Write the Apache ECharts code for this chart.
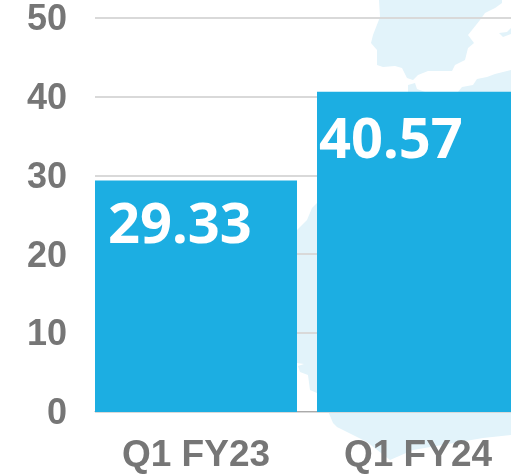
<!DOCTYPE html>
<html><head><meta charset="utf-8">
<style>html,body{margin:0;padding:0;background:#fff}#c{width:511px;height:474px}</style>
<script src="https://cdn.jsdelivr.net/npm/echarts@6/dist/echarts.min.js"></script></head>
<body><div id="c"></div>
<script>
const categories = ['Q1 FY23', 'Q1 FY24'];
const values = [29.33, 40.57];
const yMin = 0, yMax = 50, yStep = 10;
const mapFill = '#e2f3fa';
const poly = (pts) => ({type:'polygon', silent:true, z:-10, shape:{points:pts}, style:{fill:mapFill}});
const chart = echarts.init(document.getElementById('c'), null, {renderer:'canvas'});
chart.setOption({
  animation:false,
  backgroundColor:'#fff',
  graphic:[
    poly([[379,0],[380,17],[373,35],[371,43],[377,50],[377,65],[383,67],[395,66],[402,68],[407,78],[413,80],[418,75],[428,71],[445,71],[452,71],[455,65],[465,60],[468,48],[474,43],[468,35],[480,20],[485,13],[495,8],[502,3],[502,0]]),
    poly([[499,33],[507,32],[511,28],[511,34],[503,37]]),
    poly([[408,85],[415,83],[417,89],[425,92],[458,92],[462,87],[473,85],[477,79],[487,77],[495,74],[511,70],[511,95],[408,95]]),
    poly([[297,230],[307,220],[312,208],[320,200],[320,395],[317,393],[310,390],[308,375],[300,372],[298,366],[304,364],[297,363]]),
    poly([[328,411],[333,423],[337,427],[367,442],[390,460],[413,450],[483,438],[511,435],[511,411]])
  ],
  grid:[
    {left:95, width:416, top:18, height:393.5, outerBoundsMode:'none'},
    {left:85, width:444, top:17.2, height:394.8, outerBoundsMode:'none'}
  ],
  xAxis:[
    {type:'category', gridIndex:0, data:categories, axisTick:{show:false}, axisLabel:{show:false},
     axisLine:{lineStyle:{color:'#aaaaaa', width:1}}},
    {type:'category', gridIndex:1, data:categories, axisTick:{show:false}, axisLine:{show:false},
     axisLabel:{color:'#767676', fontFamily:'Liberation Sans', fontWeight:'bold', fontSize:37, margin:25, interval:0}}
  ],
  yAxis:[
    {type:'value', gridIndex:0, min:yMin, max:yMax, interval:yStep, axisLine:{show:false}, axisTick:{show:false},
     axisLabel:{color:'#767676', fontFamily:'Liberation Sans', fontWeight:'bold', fontSize:36, margin:28, verticalAlign:'top', lineHeight:5},
     splitLine:{lineStyle:{color:'#d9d9d9', width:2}}},
    {type:'value', gridIndex:1, min:yMin, max:yMax, interval:yStep, show:false, splitLine:{show:false}}
  ],
  series:[{
    type:'bar', xAxisIndex:1, yAxisIndex:1, barWidth:202,
    itemStyle:{color:'#1caee2'},
    data:[
      {value:values[0], label:{offset:[13,19]}},
      {value:values[1], label:{offset:[2,22]}}
    ],
    label:{show:true, position:'insideTopLeft', distance:0, color:'#ffffff', fontFamily:'Noto Sans', fontWeight:'bold', fontSize:56,
      formatter:(p)=>p.value.toFixed(2)}
  }]
});
</script></body></html>
